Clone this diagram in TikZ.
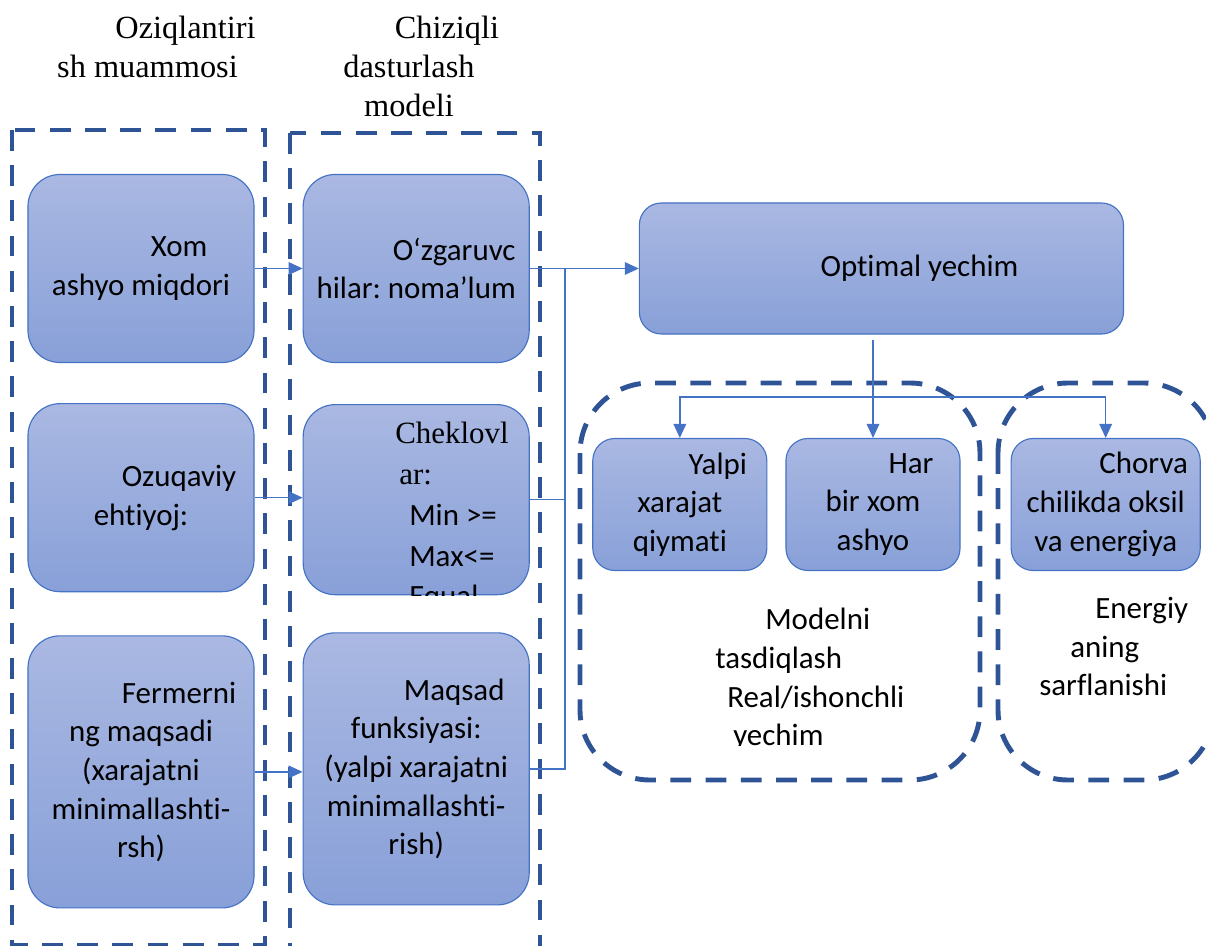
\documentclass[tikz,border=0pt]{standalone}
\usepackage{fontspec}
\setmainfont{Liberation Serif}
\newfontfamily\boxfont{Carlito}[Ligatures=NoCommon]
\usetikzlibrary{arrows.meta, positioning}
\definecolor{boxtop}{RGB}{170,184,226}
\definecolor{boxbot}{RGB}{136,160,216}
\definecolor{boxline}{RGB}{68,114,196}
\definecolor{framecol}{RGB}{47,84,150}
\newcommand{\ind}{\hspace*{1.9cm}}
\frenchspacing

\begin{document}
\begin{tikzpicture}[
        x=0.025cm, y=-0.025cm,
        block/.style={rectangle, rounded corners=0.8cm, draw=boxline, line width=0.8pt,
        top color=boxtop, bottom color=boxbot,
        minimum width=5.65cm, minimum height=4.7cm, inner sep=2pt,
        align=center, font=\boxfont\fontsize{22}{27.5}\selectfont},
        tall/.style={minimum height=6.8cm},
        small/.style={block, minimum width=4.35cm, minimum height=3.3cm, rounded corners=0.55cm},
        title/.style={anchor=north, inner sep=0pt, align=center, font=\fontsize{23}{27.5}\selectfont},
        plain/.style={inner sep=0pt, align=left, font=\boxfont\fontsize{22}{27.5}\selectfont},
        frame/.style={draw=framecol, line width=3.5pt, dash pattern=on 0.52cm off 0.36cm},
        link/.style={draw=boxline, line width=1pt},
        arrow/.style={link, -{Triangle[length=10pt, width=9pt]}}
    ]
    \useasboundingbox (0,0) rectangle (1206,946);

    % --- FRAMES ---
    \draw[frame] (12,130) rectangle (265,945);
    \draw[frame] (290,133) rectangle (540,965);
    \draw[frame, rounded corners=1.75cm] (580,383) rectangle (980,780);
    \draw[frame, rounded corners=1.75cm] (998,383) rectangle (1214,780);

    % --- TITLES ---
    \node (t1) [title] at (147.5,16) {\ind Oziqlantiri\\sh muammosi};
    \node (t2) [title] at (409,16) {\ind Chiziqli\\dasturlash\\modeli};

    % --- COLUMN 1 ---
    \node (a1) [block] at (141,268.5) {\ind Xom\\ashyo miqdori};
    \node (a2) [block, below=1cm of a1] {\ind Ozuqaviy\\ehtiyoj:};
    \node (a3) [block, tall, below=1.075cm of a2] {\ind Fermerni\\ng maqsadi\\(xarajatni\\minimallashti-\\rsh)};

    % --- COLUMN 2 ---
    \node (b1) [block, right=1.2cm of a1] {\ind O‘zgaruvc\\hilar: noma’lum};
    \node (b2) [block, minimum height=4.75cm, below=1.025cm of b1] {};
    \node (b3) [block, tall, below=0.925cm of b2] {\ind Maqsad\\funksiyasi:\\(yalpi xarajatni\\minimallashti-\\rish)};
    \begin{scope}
        \clip (b2.south west) rectangle (b2.north east);
        \node (b2text) [plain, font=\fontsize{22}{29}\selectfont, anchor=north west] at (395,422)
            {Cheklovl\\\hspace*{0.1cm}ar:\\\hspace*{0.35cm}{\boxfont Min >=}\\\hspace*{0.35cm}{\boxfont Max<=}\\\hspace*{0.35cm}{\boxfont Equal}};
    \end{scope}

    % --- RESULT ---
    \node (opt) [block, minimum width=12.1cm, minimum height=3.275cm, rounded corners=0.55cm, right=2.725cm of b1] {\ind Optimal yechim};
    \node (har) [small] at (873,504.5) {\ind Har\\bir xom\\ashyo};
    \node (yalpi) [small, left=0.45cm of har] {\ind Yalpi\\xarajat\\qiymati};
    \node (chorva) [small, minimum width=4.725cm, right=1.25cm of har] {\ind Chorva\\chilikda oksil\\va energiya};

    % --- FRAME TEXTS ---
    \begin{scope}
        \clip (580,383) rectangle (980,745);
        \node (check) [plain, anchor=north west] at (715,608)
            {\hspace*{1.25cm}Modelni\\tasdiqlash\\\hspace*{0.3cm}Real/ishonchli\\\hspace*{0.45cm}yechim};
    \end{scope}
    \node (energy) [plain, anchor=north west] at (1039,597) {\hspace*{1.4cm}Energiy\\\hspace*{0.775cm}aning\\sarflanishi};

    % --- ARROWS ---
    \draw[arrow] (a1) -- (b1);
    \draw[arrow] (a2.east) -- (a2.east -| b2.west);
    \draw[arrow] (a3.east) -- (a3.east -| b3.west);
    \draw[arrow] (b1) -- (opt);

    % --- COLLECTOR LINE ---
    \coordinate (bus) at (565,268.5);
    \draw[link] (b2.east) -- (b2.east -| bus);
    \draw[link] (b3.east) -- (b3.east -| bus) -- (bus);

    % --- SPLIT BELOW RESULT ---
    \coordinate (drop) at (873,340);
    \coordinate (split) at (873,397);
    \draw[arrow] (drop) -- (har);
    \draw[arrow] (split) -| (yalpi.north);
    \draw[arrow] (split) -| (chorva.north);

\end{tikzpicture}
\end{document}
